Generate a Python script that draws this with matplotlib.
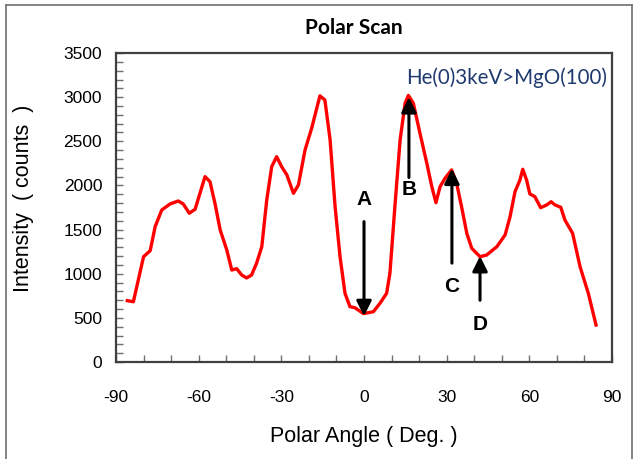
import numpy as np
import matplotlib
matplotlib.use('Agg')
import matplotlib.pyplot as plt
from matplotlib.lines import Line2D
from matplotlib.ticker import MultipleLocator

plt.rcParams['axes.unicode_minus'] = False

# polar scan
angle = [-85.9, -83.7, -80.0, -77.6, -75.8, -73.4, -70.4, -67.4, -65.6, -63.4,
         -61.3, -57.7, -55.9, -54.1, -52.2, -49.8, -48.0, -46.2, -44.4, -42.6,
         -40.8, -39.0, -37.1, -35.3, -33.5, -31.7, -29.9, -28.0, -25.6, -23.8,
         -21.4, -19.0, -16.0, -14.2, -12.3, -10.5, -8.7, -6.9, -5.1, -3.3,
         -0.2, 3.4, 5.8, 8.2, 9.4, 11.2, 13.1, 14.9, 16.1, 17.9,
         20.3, 22.8, 24.6, 26.1, 27.6, 29.4, 31.8, 33.6, 35.4, 37.3,
         39.1, 42.1, 44.5, 48.2, 51.2, 53.0, 54.8, 56.6, 57.6, 59.0,
         60.2, 62.0, 64.1, 66.3, 67.9, 69.3, 71.4, 72.9, 75.7, 78.4,
         81.4, 84.2]
counts = [695, 683, 1193, 1261, 1533, 1722, 1790, 1824, 1790, 1685,
          1730, 2100, 2043, 1798, 1496, 1269, 1042, 1057, 986, 952,
          986, 1118, 1306, 1835, 2213, 2326, 2213, 2119, 1911, 2006,
          2402, 2648, 3015, 2968, 2515, 1760, 1193, 778, 627, 615,
          548, 570, 665, 778, 1005, 1760, 2515, 2931, 3020, 2931,
          2591, 2250, 1986, 1805, 1986, 2081, 2176, 2025, 1760, 1458,
          1288, 1193, 1212, 1306, 1439, 1646, 1930, 2062, 2183, 2062,
          1903, 1873, 1748, 1779, 1816, 1779, 1753, 1609, 1458, 1080,
          778, 419]

# arrows: label, x, tail y, head y, text y
arrow_labels = ['A', 'B', 'C', 'D']
arrow_x = [0, 16.3, 31.9, 42.1]
arrow_tail = [1590, 2090, 1120, 700]
arrow_head = [520, 3000, 2190, 1200]
label_y = [1840, 1950, 850, 430]

xticks = [-90, -60, -30, 0, 30, 60, 90]
yticks = [0, 500, 1000, 1500, 2000, 2500, 3000, 3500]

fig = plt.figure(figsize=(6.35, 4.59), dpi=100)
ax = fig.add_axes([0.1827, 0.2113, 0.7811, 0.6732])

ax.plot(angle, counts, color='#ff0000', linewidth=2.4, solid_joinstyle='round')

for lab, x, t, h, ty in zip(arrow_labels, arrow_x, arrow_tail, arrow_head, label_y):
    ax.annotate('', xy=(x, h), xytext=(x, t),
                arrowprops=dict(arrowstyle='-|>,head_length=0.9,head_width=0.45',
                                color='black', lw=2.2, shrinkA=0, shrinkB=0))
    ax.text(x, ty, lab, fontsize=15, fontweight='bold', ha='center', va='center',
            family='Liberation Sans')

ax.text(0.99, 0.955, 'He(0)3keV>MgO(100)', transform=ax.transAxes, ha='right', va='top',
        fontsize=14.8, color='#1f3a6e', family='Lato')

ax.set_xlim(-90, 90)
ax.set_ylim(0, 3500)
ax.set_xticks(xticks)
ax.set_yticks(yticks)
ax.xaxis.set_minor_locator(MultipleLocator(10))
ax.yaxis.set_minor_locator(MultipleLocator(100))
ax.tick_params(which='both', direction='in', length=5, width=1, color='#707070')
ax.tick_params(axis='x', which='major', pad=20, labelsize=12.5)
ax.tick_params(axis='y', which='major', pad=10, labelsize=12.5)
for lbl in ax.get_xticklabels() + ax.get_yticklabels():
    lbl.set_family('Liberation Sans')
for s in ax.spines.values():
    s.set_color('#404040')
    s.set_linewidth(1.6)

fig.text(0.557, 0.938, 'Polar Scan', fontsize=15, fontweight='bold', family='Lato',
         ha='center', va='center')
ax.set_xlabel('Polar Angle ( Deg. )', fontsize=15.5, family='Liberation Sans', labelpad=15)
ax.set_ylabel('Intensity \u00a0( counts\u00a0 )', fontsize=15.5, family='Liberation Sans')
ax.yaxis.set_label_coords(-0.165, 0.53)

# outer chart border
for xs, ys in [([0.009, 0.009], [0.0, 0.989]), ([0.009, 0.995], [0.989, 0.989]),
               ([0.995, 0.995], [0.0, 0.989])]:
    fig.add_artist(Line2D(xs, ys, transform=fig.transFigure, color='#707070', lw=1.2))

fig.savefig('out.png', dpi=100)
